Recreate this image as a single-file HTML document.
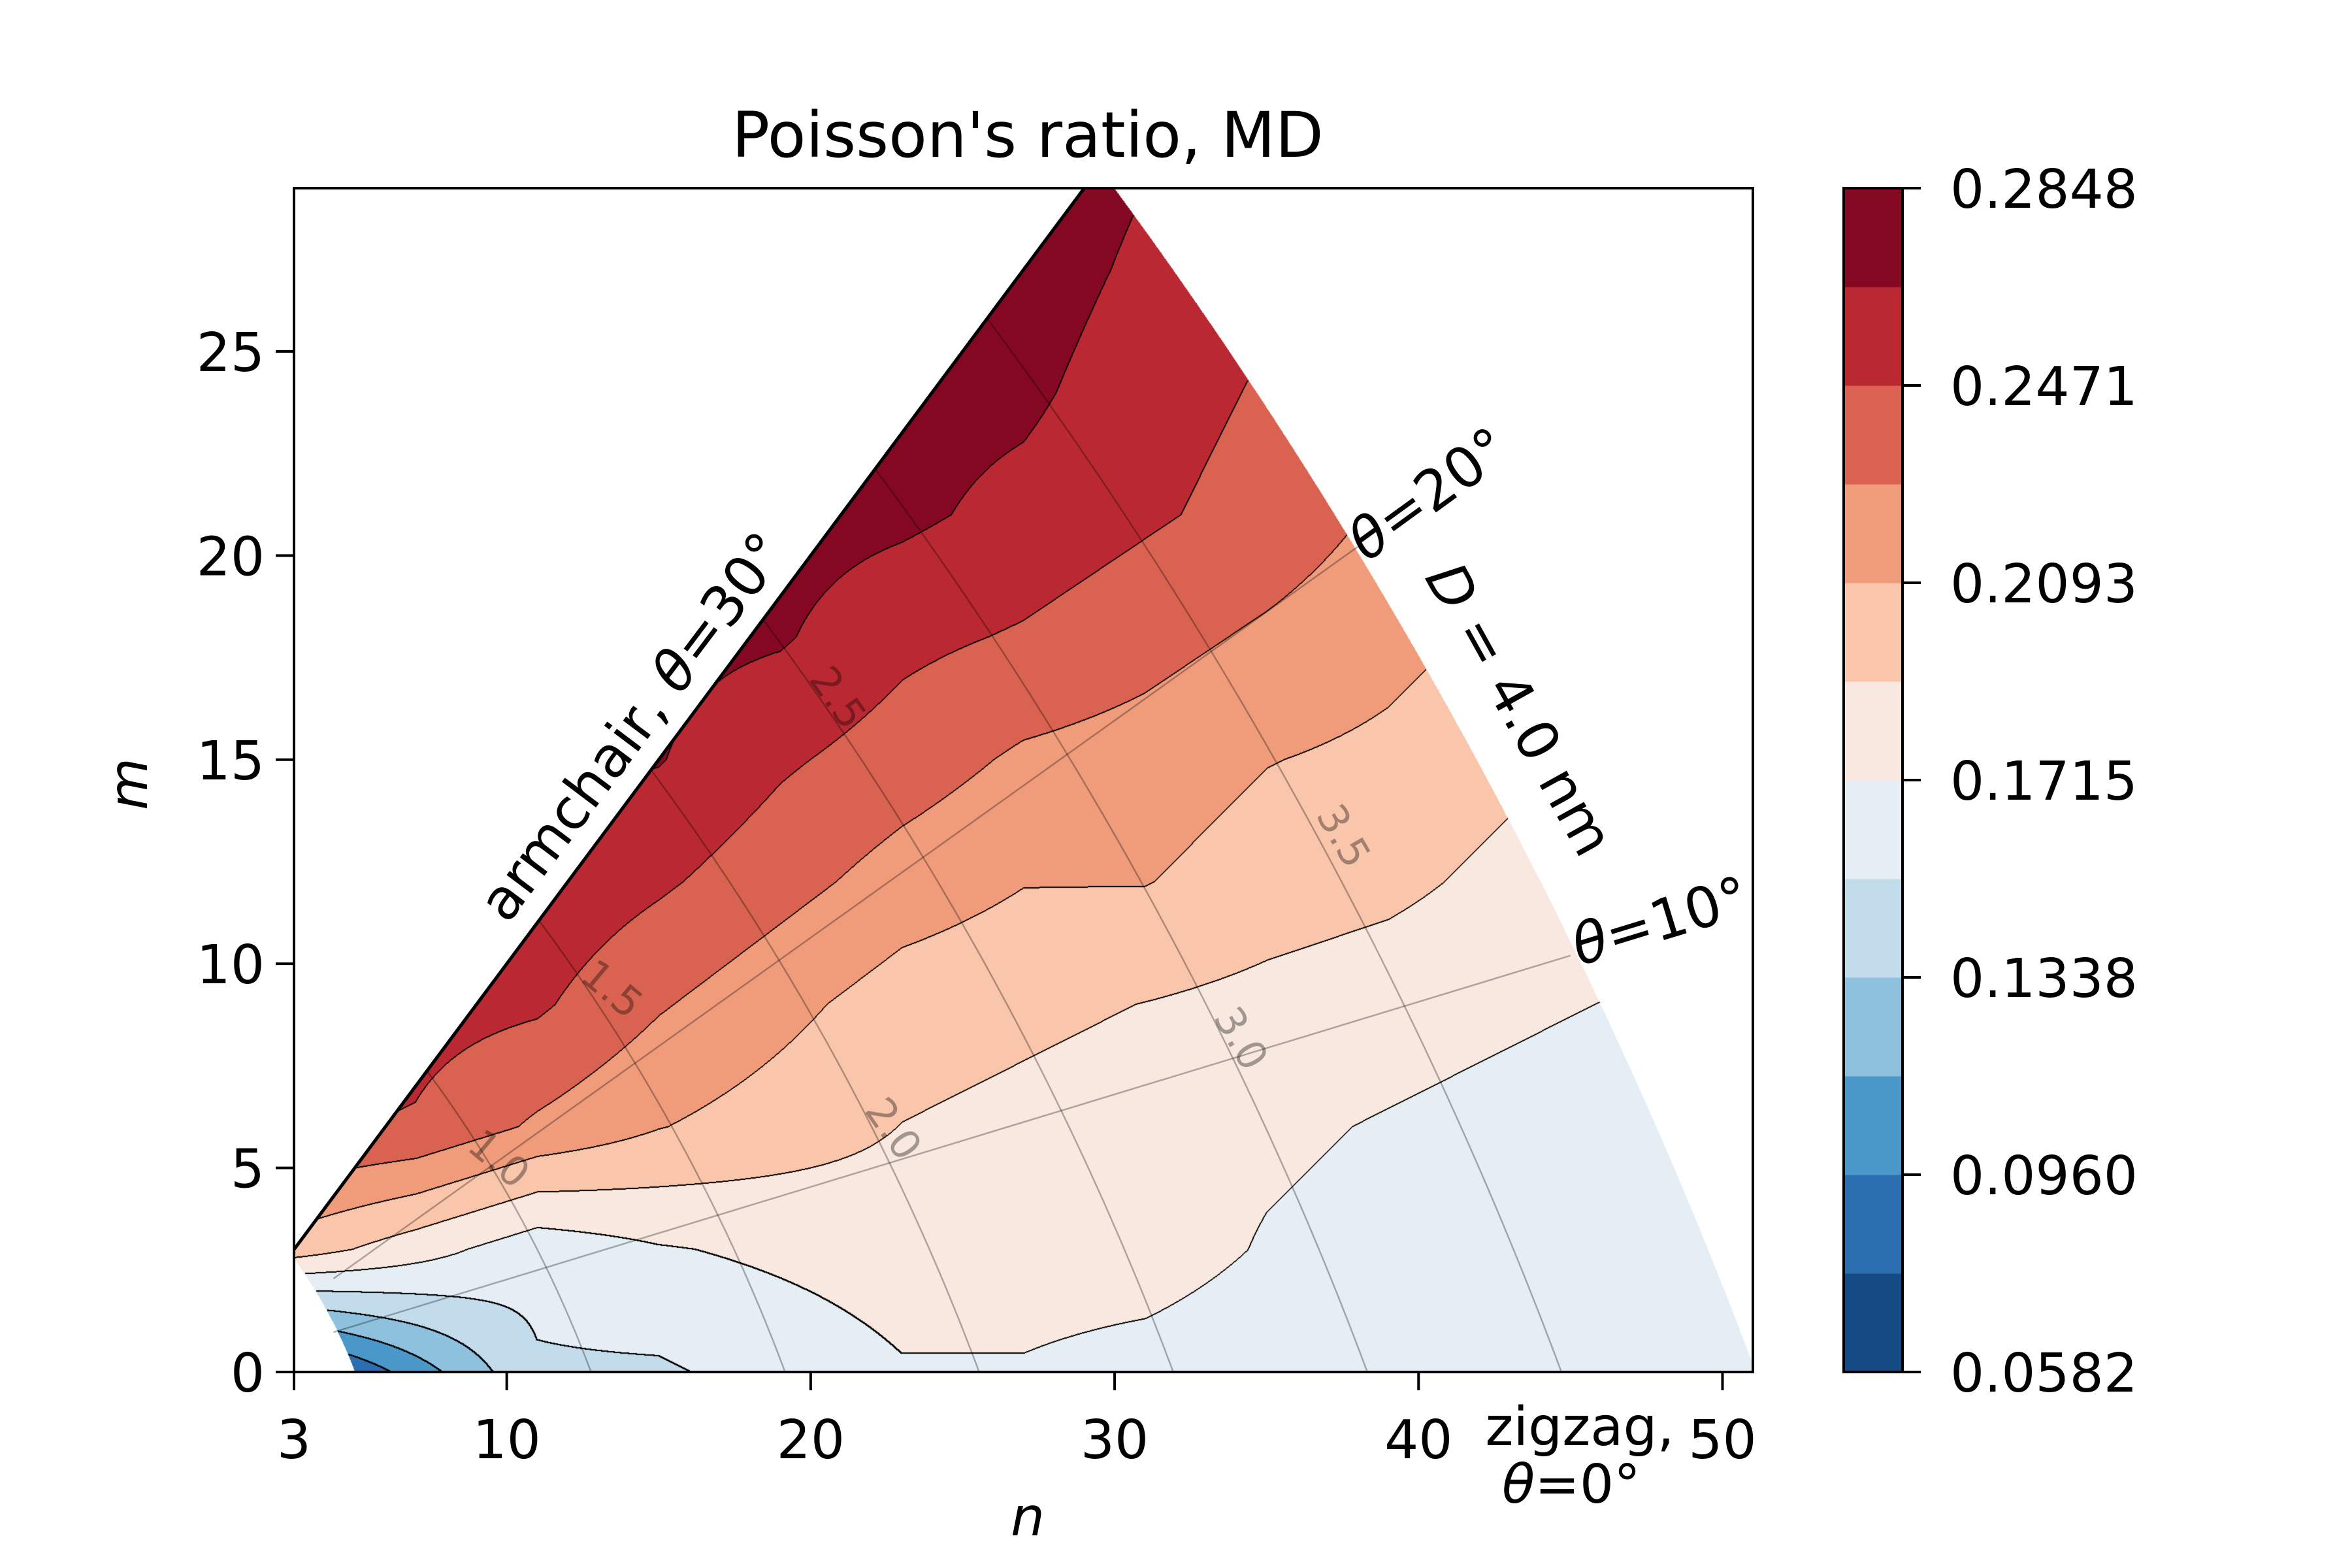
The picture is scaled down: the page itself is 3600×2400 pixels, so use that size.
<!DOCTYPE html>
<html><head><meta charset="utf-8"><style>
body{margin:0;background:#fff;font-family:"DejaVu Sans","Liberation Sans",sans-serif;}
#wrap{position:relative;width:3600px;height:2400px;}
canvas{position:absolute;left:450px;top:288px;}
svg{position:absolute;left:0;top:0;font-family:"DejaVu Sans","Liberation Sans",sans-serif;}
</style></head><body>
<div id="wrap">
<canvas id="cv" width="2233" height="1812"></canvas>
<svg id="sv" width="3600" height="2400"></svg>
<svg width="3600" height="2400">
<text x="1573" y="240" font-size="96" text-anchor="middle">Poisson's ratio, MD</text>
<text x="1573" y="2350" font-size="82" text-anchor="middle" font-style="italic">n</text>
<text x="225" y="1200" font-size="82" text-anchor="middle" font-style="italic" transform="rotate(-90 225 1200)">m</text>
<text x="992" y="1130" font-size="86" text-anchor="middle" transform="rotate(-53 992 1130)">armchair, <tspan font-style="italic">θ</tspan>=30°</text>
<text x="2204" y="780" font-size="86" text-anchor="middle" transform="rotate(-36 2204 780)"><tspan font-style="italic">θ</tspan>=20°</text>
<text x="2550" y="1438" font-size="86" text-anchor="middle" transform="rotate(-17 2550 1438)"><tspan font-style="italic">θ</tspan>=10°</text>
<text x="2300" y="1100" font-size="86" text-anchor="middle" transform="rotate(61 2300 1100)"><tspan font-style="italic">D</tspan> = 4.0 nm</text>
<text x="2418" y="2212" font-size="82" text-anchor="middle">zigzag,</text>
<text x="2405" y="2300" font-size="82" text-anchor="middle"><tspan font-style="italic">θ</tspan>=0°</text>
</svg>
</div>
<script>
const nGrid=[3,7,11,15,19,23,27,31,35,39,43,47,51];
const mGrid=[0,3,6,9,12,15,18,21,24,27,30];
const vals=[
[0.06,0.105,0.15,0.15,0.16,0.17,0.17,0.165,0.16,0.16,0.165,0.16,0.16],
[0.2,0.18,0.16,0.17,0.175,0.18,0.18,0.18,0.17,0.165,0.165,0.16,0.16],
[0.25,0.245,0.225,0.21,0.2,0.19,0.185,0.18,0.175,0.17,0.165,0.16,0.16],
[0.26,0.255,0.25,0.23,0.215,0.2,0.195,0.19,0.185,0.18,0.175,0.17,0.17],
[0.265,0.265,0.262,0.25,0.235,0.22,0.21,0.21,0.2,0.195,0.185,0.18,0.18],
[0.27,0.27,0.27,0.267,0.25,0.238,0.225,0.22,0.21,0.205,0.195,0.19,0.19],
[0.275,0.275,0.275,0.272,0.268,0.252,0.245,0.235,0.225,0.215,0.205,0.2,0.2],
[0.28,0.278,0.278,0.276,0.274,0.27,0.26,0.25,0.24,0.225,0.215,0.21,0.21],
[0.282,0.28,0.28,0.28,0.278,0.273,0.27,0.255,0.245,0.235,0.225,0.22,0.22],
[0.285,0.285,0.285,0.283,0.28,0.278,0.276,0.262,0.25,0.24,0.235,0.23,0.23],
[0.29,0.29,0.29,0.287,0.285,0.282,0.28,0.268,0.255,0.245,0.24,0.235,0.235]];
const cbTicks=["0.0582","0.0960","0.1338","0.1715","0.2093","0.2471","0.2848"];
const xTicks=[3,10,20,30,40,50];
const yTicks=[0,5,10,15,20,25];
const colors=["#154b85","#2c6fb1","#4a98c9","#8ec1dd","#c3dcec","#e4eef4","#f8e8e0","#f9c5ab","#f09c7b","#d96350","#ba2832","#850822"];
const vmin=0.0582,vmax=0.2848,nb=12;
const X0=450,Y0=288,W=2233,H=1812;
const sx=n=>X0+(n-3)/48*W, sy=m=>Y0+(29-m)/29*H;
function val(n,m){
  let fi=(n-3)/4, fj=m/3;
  fi=Math.max(0,Math.min(nGrid.length-1.001,fi)); fj=Math.max(0,Math.min(mGrid.length-1.001,fj));
  const i=Math.floor(fi),j=Math.floor(fj),a=fi-i,b=fj-j;
  return vals[j][i]*(1-a)*(1-b)+vals[j][i+1]*a*(1-b)+vals[j+1][i]*(1-a)*b+vals[j+1][i+1]*a*b;
}
function inside(n,m){const r=Math.sqrt(n*n+n*m+m*m);return m<=n&&m>=0&&r*0.0783<=4.0&&r>=5.0;}
const cv=document.getElementById('cv'),ctx=cv.getContext('2d');
const img=ctx.createImageData(W,H);const band=new Int8Array(W*H);
const rgb=colors.map(c=>[parseInt(c.substr(1,2),16),parseInt(c.substr(3,2),16),parseInt(c.substr(5,2),16)]);
for(let y=0;y<H;y++)for(let x=0;x<W;x++){
  const n=3+x/W*48,m=29-y/H*29;let b=-1;
  if(inside(n,m)){b=Math.floor((val(n,m)-vmin)/(vmax-vmin)*nb);b=Math.max(0,Math.min(nb-1,b));}
  band[y*W+x]=b;
}
for(let y=0;y<H;y++)for(let x=0;x<W;x++){
  const k=y*W+x,b=band[k];if(b<0)continue;
  let edge=false;
  for(let d=1;d<=2;d++){const r=x+d<W?band[k+d]:b,u=y+d<H?band[k+d*W]:b;if((r>=0&&r!==b)||(u>=0&&u!==b))edge=true;}
  const c=edge?[0,0,0]:rgb[b];const p=k*4;img.data[p]=c[0];img.data[p+1]=c[1];img.data[p+2]=c[2];img.data[p+3]=255;
}
ctx.putImageData(img,0,0);
const NS='http://www.w3.org/2000/svg',sv=document.getElementById('sv');
function mk(t,a,txt){const e=document.createElementNS(NS,t);for(const k in a)e.setAttribute(k,a[k]);if(txt!==undefined)e.textContent=txt;sv.appendChild(e);return e;}
const Ds=[1.0,1.5,2.0,2.5,3.0,3.5];
Ds.forEach(D=>{const R=D/0.0783;let pts=[];for(let t=0;t<=30;t+=0.5){const th=t*Math.PI/180;
  const k=Math.sqrt(3)/Math.tan(th||1e-9);
  let n,m;if(t===0){n=R;m=0;}else{const q=(k-1)/2;m=R/Math.sqrt(q*q+q+1);n=q*m;}
  if(Math.sqrt(n*n+n*m+m*m)>=5)pts.push(sx(n).toFixed(1)+','+sy(m).toFixed(1));}
  const e=mk('polyline',{points:pts.join(' '),fill:'none',stroke:'#000','stroke-opacity':0.3,'stroke-width':2.5});
  });
[0.2267,0.532].forEach(r=>{const e=mk('line',{x1:sx(4.3),y1:sy(4.3*r),x2:sx(r<0.3?45:38),y2:sy((r<0.3?45:38)*r),stroke:'#000','stroke-opacity':0.3,'stroke-width':2.5});
  });
const dl=[["1.0",750,1790,40],["1.5",923,1530,40],["2.0",1350,1740,55],["2.5",1265,1080,55],["3.0",1881,1600,60],["3.5",2038,1290,60]];
dl.forEach(d=>{const e=mk('text',{x:d[1],y:d[2],'font-size':62,fill:'#000','fill-opacity':0.35,'text-anchor':'middle',transform:`rotate(${d[3]} ${d[1]} ${d[2]})`},d[0]);
  });
let e=mk('line',{x1:sx(3),y1:sy(3),x2:sx(29),y2:sy(29),stroke:'#000','stroke-width':5});

e=mk('rect',{x:X0,y:Y0,width:W,height:H,fill:'none',stroke:'#000','stroke-width':4});

xTicks.forEach(t=>{const x=sx(t);const l=mk('line',{x1:x,y1:Y0+H,x2:x,y2:Y0+H+28,stroke:'#000','stroke-width':4});
  
  const tx=mk('text',{x:x,y:Y0+H+132,'font-size':82,'text-anchor':'middle'},t);
  });
yTicks.forEach(t=>{const y=sy(t);const l=mk('line',{x1:X0-28,y1:y,x2:X0,y2:y,stroke:'#000','stroke-width':4});
  
  const tx=mk('text',{x:X0-45,y:y+30,'font-size':82,'text-anchor':'end'},t);
  });
const CX=2822,CW=90;
colors.forEach((c,i)=>{const h=H/nb;const r=mk('rect',{x:CX,y:Y0+H-(i+1)*h,width:CW,height:h+0.5,fill:c});
  });
e=mk('rect',{x:CX,y:Y0,width:CW,height:H,fill:'none',stroke:'#000','stroke-width':4});

cbTicks.forEach((t,i)=>{const y=Y0+H-i*H/6;const l=mk('line',{x1:CX+CW,y1:y,x2:CX+CW+28,y2:y,stroke:'#000','stroke-width':4});
  
  const tx=mk('text',{x:CX+CW+73,y:y+30,'font-size':82},t);
  });
</script>
</body></html>
